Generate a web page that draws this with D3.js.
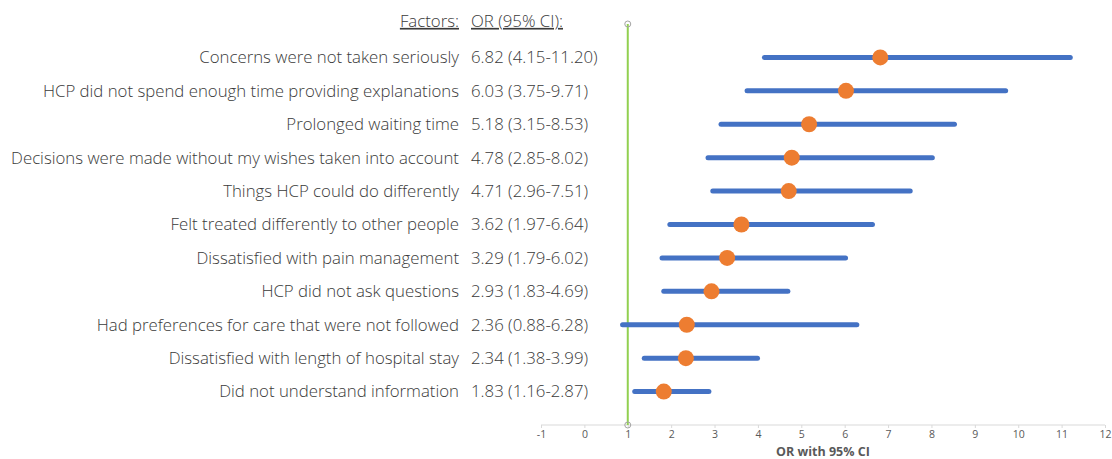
<!DOCTYPE html>
<html>
<head>
<meta charset="utf-8">
<script src="https://cdn.jsdelivr.net/npm/d3@7"></script>
<style>
  body { margin: 0; background: #fff; }
  text { font-family: "Open Sans", "Segoe UI", sans-serif; }
</style>
</head>
<body>
<div id="chart"></div>
<script>
var factors = [
  "Concerns were not taken seriously",
  "HCP did not spend enough time providing explanations",
  "Prolonged waiting time",
  "Decisions were made without my wishes taken into account",
  "Things HCP could do differently",
  "Felt treated differently to other people",
  "Dissatisfied with pain management",
  "HCP did not ask questions",
  "Had preferences for care that were not followed",
  "Dissatisfied with length of hospital stay",
  "Did not understand information"
];
var orValues = [6.82, 6.03, 5.18, 4.78, 4.71, 3.62, 3.29, 2.93, 2.36, 2.34, 1.83];
var ciLower  = [4.15, 3.75, 3.15, 2.85, 2.96, 1.97, 1.79, 1.83, 0.88, 1.38, 1.16];
var ciUpper  = [11.20, 9.71, 8.53, 8.02, 7.51, 6.64, 6.02, 4.69, 6.28, 3.99, 2.87];
var orLabels = ["6.82 (4.15-11.20)", "6.03 (3.75-9.71)", "5.18 (3.15-8.53)", "4.78 (2.85-8.02)",
  "4.71 (2.96-7.51)", "3.62 (1.97-6.64)", "3.29 (1.79-6.02)", "2.93 (1.83-4.69)",
  "2.36 (0.88-6.28)", "2.34 (1.38-3.99)", "1.83 (1.16-2.87)"];
var xTicks = [-1, 0, 1, 2, 3, 4, 5, 6, 7, 8, 9, 10, 11, 12];

var W = 1112, H = 459;
var svg = d3.select("#chart").append("svg")
  .attr("width", W).attr("height", H);

// x: OR scale, y: row position (11 at top, 1 at bottom, axis at 0)
var x = d3.scaleLinear().domain([-1, 12]).range([541, 1105]);
var y = d3.scaleLinear().domain([0, 12]).range([425, 24]);

var rows = factors.map(function(f, i) {
  return {name: f, or: orValues[i], lo: ciLower[i], hi: ciUpper[i], lab: orLabels[i], pos: factors.length - i};
});

// x axis
var ax = svg.append("g")
  .attr("transform", "translate(0," + y(0) + ")")
  .call(d3.axisBottom(x).tickValues(xTicks).tickSize(3).tickPadding(3)
    .tickFormat(function(d) { return String(d); }));
ax.select(".domain").attr("stroke", "#d9d9d9").attr("d", "M" + x(-1) + ",0H" + x(12));
ax.selectAll(".tick line").attr("stroke", "#d9d9d9");
ax.selectAll(".tick text").attr("fill", "#595959").style("font-size", "10.5px");

svg.append("text")
  .attr("x", (x(-1) + x(12)) / 2)
  .attr("y", 456)
  .attr("text-anchor", "middle")
  .attr("fill", "#595959")
  .style("font-size", "12.5px")
  .style("font-weight", "bold")
  .text("OR with 95% CI");

// reference line at OR = 1
svg.append("line")
  .attr("x1", x(1)).attr("x2", x(1))
  .attr("y1", y(0)).attr("y2", y(12))
  .attr("stroke", "#92d050").attr("stroke-width", 2);
svg.selectAll(".refpt")
  .data([0, 12])
  .enter().append("circle")
  .attr("cx", x(1)).attr("cy", function(d) { return y(d); })
  .attr("r", 3)
  .attr("fill", "none").attr("stroke", "#a5a5a5").attr("stroke-width", 1);

// CI bars
svg.append("g").selectAll("line")
  .data(rows)
  .enter().append("line")
  .attr("x1", function(d) { return x(d.lo); })
  .attr("x2", function(d) { return x(d.hi); })
  .attr("y1", function(d) { return y(d.pos); })
  .attr("y2", function(d) { return y(d.pos); })
  .attr("stroke", "#4472c4")
  .attr("stroke-width", 5)
  .attr("stroke-linecap", "round");

// OR points
svg.append("g").selectAll("circle")
  .data(rows)
  .enter().append("circle")
  .attr("cx", function(d) { return x(d.or); })
  .attr("cy", function(d) { return y(d.pos); })
  .attr("r", 8)
  .attr("fill", "#ed7d31");

// labels
var lab = svg.append("g").style("font-size", "16.8px").style("font-weight", 300).attr("fill", "#3a3a3a");
lab.selectAll(".fac")
  .data(rows)
  .enter().append("text")
  .attr("x", 459)
  .attr("y", function(d) { return y(d.pos); })
  .attr("dy", "0.35em")
  .attr("text-anchor", "end")
  .text(function(d) { return d.name; });
lab.selectAll(".orl")
  .data(rows)
  .enter().append("text")
  .attr("x", 471)
  .attr("y", function(d) { return y(d.pos); })
  .attr("dy", "0.35em")
  .text(function(d) { return d.lab; });

// headers
lab.append("text")
  .attr("x", 459).attr("y", 21).attr("dy", "0.35em")
  .attr("text-anchor", "end")
  .style("text-decoration", "underline")
  .text("Factors:");
lab.append("text")
  .attr("x", 471).attr("y", 21).attr("dy", "0.35em")
  .style("text-decoration", "underline")
  .text("OR (95% CI):");
</script>
</body>
</html>
